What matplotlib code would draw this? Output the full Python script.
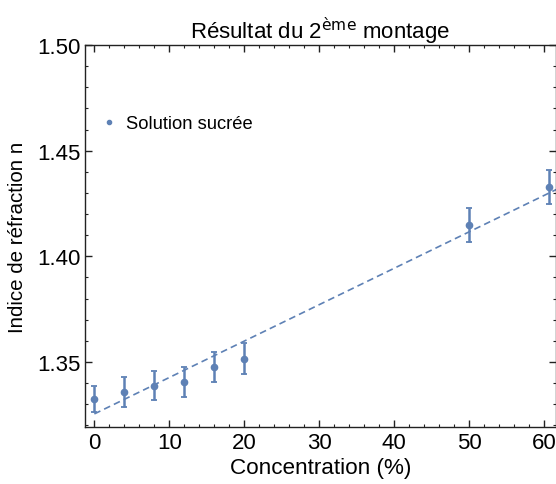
import matplotlib
matplotlib.use("Agg")
import matplotlib.pyplot as plt
import numpy as np
from matplotlib.ticker import MultipleLocator, FormatStrFormatter

plt.rcParams['font.family'] = ['Liberation Sans', 'DejaVu Sans']

concentration = [0, 4, 8, 12, 16, 20, 50, 60.6]
indice = [1.3325, 1.3357, 1.3388, 1.3405, 1.3477, 1.3516, 1.4148, 1.4327]
erreur = [0.0062, 0.0070, 0.0070, 0.0070, 0.0070, 0.0072, 0.0080, 0.0080]
fit_intercept = 1.3254
fit_slope = 0.001723

blue = '#5E81B5'

fig = plt.figure(figsize=(5.56, 4.85), dpi=100)
ax = fig.add_axes([85/556, 1-428/485, (556-85)/556, (428-46)/485])

xfit = np.array([0, 62])
ax.plot(xfit, fit_intercept + fit_slope * xfit, ls=(0, (4, 2.5)), color=blue, lw=1.2, zorder=2)
ax.errorbar(concentration, indice, yerr=erreur, fmt='o', color=blue, ms=4.5,
            elinewidth=1.8, capsize=2.5, capthick=1.3, zorder=3)

ax.set_xlim(-1.25, 61.6)
ax.set_ylim(1.3192, 1.50)

ax.xaxis.set_major_locator(MultipleLocator(10))
ax.xaxis.set_minor_locator(MultipleLocator(2))
ax.yaxis.set_major_locator(MultipleLocator(0.05))
ax.yaxis.set_minor_locator(MultipleLocator(0.01))
ax.yaxis.set_major_formatter(FormatStrFormatter('%.2f'))

ax.tick_params(which='both', direction='in', top=True, right=True, labelsize=16, color='#222222')
ax.tick_params(which='major', length=5, width=1)
ax.tick_params(which='minor', length=2.5, width=0.8)
for s in ax.spines.values():
    s.set_linewidth(1.0)
    s.set_color('#222222')

ax.set_xlabel('Concentration (%)', fontsize=16.2, labelpad=3)
ax.set_ylabel('Indice de réfraction n', fontsize=14.8, labelpad=7)
ax.set_title('Résultat du 2$^{\\mathrm{ème}}$ montage', fontsize=16, pad=4)

ax.plot([], [], 'o', color=blue, ms=3, label='Solution sucrée')
handles, labels = ax.get_legend_handles_labels()
ax.legend(handles[-1:], labels[-1:], loc='upper left', bbox_to_anchor=(0.005, 0.86),
          frameon=False, fontsize=13.2, handlelength=0.6, handletextpad=0.6)

fig.savefig('out.png', dpi=100)
